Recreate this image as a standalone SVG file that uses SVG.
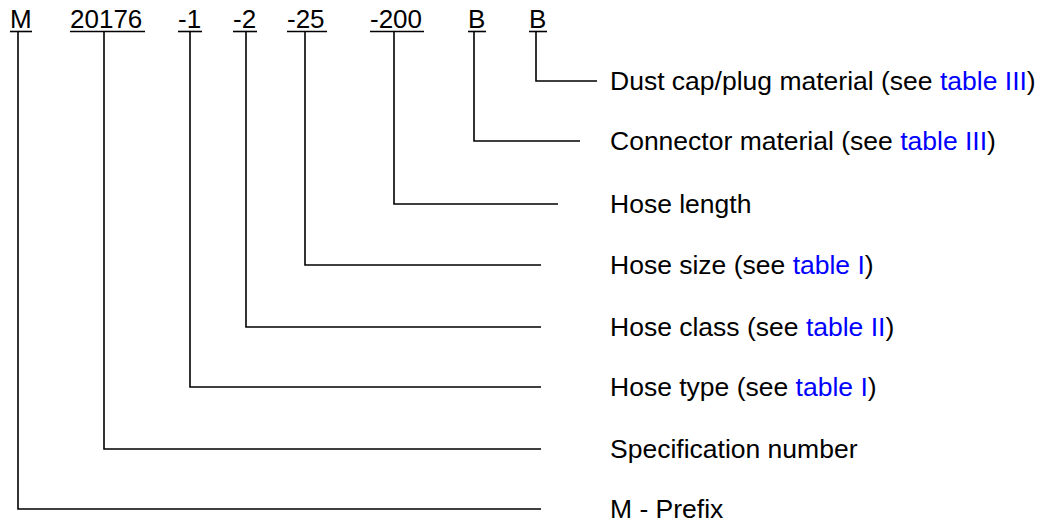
<svg xmlns="http://www.w3.org/2000/svg" width="1041" height="522" viewBox="0 0 1041 522">
<style>
text{font-family:"Liberation Sans",Arial,sans-serif;font-size:26px;fill:#000}
.lbl{font-size:26.5px}
.lnk{fill:#0000ff}
.ul{stroke:#000;stroke-width:1.6}
.c{fill:none;stroke:#000;stroke-width:1.6}
</style>
<rect width="1041" height="522" fill="#fff"/>
<g id="code-M"><text x="10" y="28">M</text><line class="ul" x1="10" y1="31.5" x2="32" y2="31.5"/></g>
<g id="code-20176"><text x="70" y="28">20176</text><line class="ul" x1="70" y1="31.5" x2="145" y2="31.5"/></g>
<g id="code-1"><text x="178" y="28">-1</text><line class="ul" x1="178" y1="31.5" x2="202" y2="31.5"/></g>
<g id="code-2"><text x="233" y="28">-2</text><line class="ul" x1="233" y1="31.5" x2="257" y2="31.5"/></g>
<g id="code-25"><text x="287" y="28">-25</text><line class="ul" x1="287" y1="31.5" x2="327" y2="31.5"/></g>
<g id="code-200"><text x="370" y="28">-200</text><line class="ul" x1="370" y1="31.5" x2="424" y2="31.5"/></g>
<g id="code-B1"><text x="468" y="28">B</text><line class="ul" x1="468" y1="31.5" x2="486" y2="31.5"/></g>
<g id="code-B2"><text x="529" y="28">B</text><line class="ul" x1="529" y1="31.5" x2="547" y2="31.5"/></g>
<g id="connectors">
<polyline class="c" points="536,32 536,81 597,81"/>
<polyline class="c" points="474,32 474,141 580,141"/>
<polyline class="c" points="394,32 394,204 558,204"/>
<polyline class="c" points="305,32 305,265 541,265"/>
<polyline class="c" points="246,32 246,327 541,327"/>
<polyline class="c" points="190,32 190,387 541,387"/>
<polyline class="c" points="104,32 104,449 541,449"/>
<polyline class="c" points="18,32 18,509 541,509"/>
</g>
<g id="label-dustcap"><text class="lbl" x="610" y="89.5">Dust cap/plug material (see <tspan class="lnk">table III</tspan>)</text></g>
<g id="label-connector"><text class="lbl" x="610" y="149.5">Connector material (see <tspan class="lnk">table III</tspan>)</text></g>
<g id="label-length"><text class="lbl" x="610" y="212.5">Hose length</text></g>
<g id="label-size"><text class="lbl" x="610" y="273.5">Hose size (see <tspan class="lnk">table I</tspan>)</text></g>
<g id="label-class"><text class="lbl" x="610" y="335.5">Hose class (see <tspan class="lnk">table II</tspan>)</text></g>
<g id="label-type"><text class="lbl" x="610" y="395.5">Hose type (see <tspan class="lnk">table I</tspan>)</text></g>
<g id="label-spec"><text class="lbl" x="610" y="457.5">Specification number</text></g>
<g id="label-prefix"><text class="lbl" x="610" y="517.5">M - Prefix</text></g>
</svg>
